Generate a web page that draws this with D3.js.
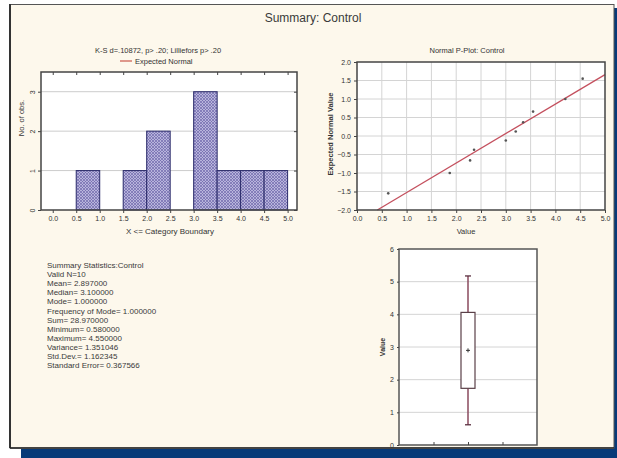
<!DOCTYPE html>
<html><head><meta charset="utf-8">
<script src="https://cdn.jsdelivr.net/npm/d3@7"></script>
<style>
html,body{margin:0;padding:0;background:#fff;}
svg{display:block;font-family:"Liberation Sans",Arial,sans-serif;}
.tick text{font-size:7px;fill:#333;}
.tick line{stroke:#444;}
.domain{display:none;}
</style></head>
<body>
<svg id="c" width="617" height="458"></svg>
<script>
// ---------- DATA ----------
const mainTitle = "Summary: Control";
const histTitle = "K-S d=.10872, p> .20; Lilliefors p> .20";
const histLegend = "Expected Normal";
const histBinStarts = [0.0, 0.5, 1.0, 1.5, 2.0, 2.5, 3.0, 3.5, 4.0, 4.5];
const histCounts    = [0,   1,   0,   1,   2,   0,   3,   1,   1,   1];
const histXTicks = [0.0, 0.5, 1.0, 1.5, 2.0, 2.5, 3.0, 3.5, 4.0, 4.5, 5.0];
const histYTicks = [0, 1, 2, 3];
const histXLabel = "X <= Category Boundary";
const histYLabel = "No. of obs.";

const ppTitle = "Normal P-Plot: Control";
const ppValues   = [0.63, 1.87, 2.28, 2.36, 3.00, 3.20, 3.35, 3.55, 4.20, 4.55];
const ppExpected = [-1.55, -1.00, -0.66, -0.37, -0.12, 0.12, 0.37, 0.66, 1.00, 1.55];
const ppLineX = [0.41, 5.0];
const ppLineY = [-2.0, 1.66];
const ppXTicks = [0.0, 0.5, 1.0, 1.5, 2.0, 2.5, 3.0, 3.5, 4.0, 4.5, 5.0];
const ppYTicks = [-2.0, -1.5, -1.0, -0.5, 0.0, 0.5, 1.0, 1.5, 2.0];
const ppXLabel = "Value";
const ppYLabel = "Expected Normal Value";

const statsLines = [
  "Summary Statistics:Control",
  "Valid N=10",
  "Mean= 2.897000",
  "Median= 3.100000",
  "Mode= 1.000000",
  "Frequency of Mode= 1.000000",
  "Sum= 28.970000",
  "Minimum= 0.580000",
  "Maximum= 4.550000",
  "Variance= 1.351046",
  "Std.Dev.= 1.162345",
  "Standard Error= 0.367566"
];

const boxMean = 2.897;
const boxLow = 1.735, boxHigh = 4.059;      // mean ± SD
const whiskLow = 0.619, whiskHigh = 5.175;  // mean ± 1.96 SD
const boxYTicks = [0, 1, 2, 3, 4, 5, 6];
const boxYLabel = "Value";

// ---------- DRAW ----------
const svg = d3.select("#c");
const navy = "#073a78";

svg.append("rect").attr("x",614).attr("y",8).attr("width",3).attr("height",450).attr("fill",navy);
svg.append("rect").attr("x",21).attr("y",449).attr("width",596).attr("height",9).attr("fill",navy);
svg.append("rect").attr("x",10).attr("y",4.5).attr("width",604).attr("height",443.5)
  .attr("fill","#fdf8ec").attr("stroke","#555").attr("stroke-width",1);
svg.append("line").attr("x1",10).attr("x2",10).attr("y1",4).attr("y2",448).attr("stroke","#333").attr("stroke-width",2);
svg.append("line").attr("x1",10).attr("x2",614).attr("y1",448).attr("y2",448).attr("stroke","#222").attr("stroke-width",1.5);

svg.append("text").attr("x",313).attr("y",22).attr("text-anchor","middle")
  .attr("font-size",12).attr("fill","#3a3a3a").text(mainTitle);

const defs = svg.append("defs");
const pat = defs.append("pattern").attr("id","hatch").attr("patternUnits","userSpaceOnUse")
  .attr("width",3).attr("height",3);
pat.append("rect").attr("width",3).attr("height",3).attr("fill","#b8b4dc");
pat.append("path").attr("d","M0,0 L3,3 M3,0 L0,3").attr("stroke","#6e68ac").attr("stroke-width",0.7);

// ---------- Histogram ----------
const hx = d3.scaleLinear().domain([-0.25, 5.2]).range([41, 297]);
const hy = d3.scaleLinear().domain([0, 3.5]).range([210, 72]);
const H = svg.append("g");
H.append("rect").attr("x",41).attr("y",72).attr("width",256).attr("height",138).attr("fill","#fff");
H.selectAll("line.grid").data(histYTicks.filter(d=>d>0)).join("line")
  .attr("x1",41).attr("x2",297).attr("y1",d=>hy(d)).attr("y2",d=>hy(d))
  .attr("stroke","#ccc").attr("stroke-width",1);
H.selectAll("rect.bar").data(histBinStarts.map((s,i)=>({s,c:histCounts[i]})).filter(d=>d.c>0)).join("rect")
  .attr("x",d=>hx(d.s)).attr("width",d=>hx(d.s+0.5)-hx(d.s))
  .attr("y",d=>hy(d.c)).attr("height",d=>hy(0)-hy(d.c))
  .attr("fill","url(#hatch)").attr("stroke","#2a2a6a").attr("stroke-width",1);
H.append("rect").attr("x",41).attr("y",72).attr("width",256).attr("height",138)
  .attr("fill","none").attr("stroke","#444").attr("stroke-width",1.5);
H.append("g").attr("transform","translate(0,210)")
  .call(d3.axisBottom(hx).tickValues(histXTicks).tickFormat(d3.format(".1f")).tickSize(3));
H.append("g").attr("transform","translate(0,72)")
  .call(d3.axisTop(hx).tickValues(histXTicks).tickFormat("").tickSize(-3));
const hyAx = H.append("g").attr("transform","translate(41,0)")
  .call(d3.axisLeft(hy).tickValues(histYTicks).tickFormat(d3.format("d")).tickSize(3));
hyAx.selectAll(".tick text").attr("transform","rotate(-90)").attr("x",0)
  .attr("y",-6).attr("dy","0").attr("text-anchor","middle");
H.append("g").attr("transform","translate(297,0)")
  .call(d3.axisRight(hy).tickValues(histYTicks).tickFormat("").tickSize(-3));
H.append("text").attr("x",158).attr("y",53).attr("text-anchor","middle").attr("font-size",7.5).attr("fill","#333").text(histTitle);
H.append("line").attr("x1",120).attr("x2",132).attr("y1",61).attr("y2",61).attr("stroke","#c0392b").attr("stroke-width",1);
H.append("text").attr("x",135).attr("y",63.5).attr("font-size",7.5).attr("fill","#333").text(histLegend);
H.append("text").attr("x",170).attr("y",234).attr("text-anchor","middle").attr("font-size",8).attr("fill","#333").text(histXLabel);
H.append("text").attr("transform","translate(24,118) rotate(-90)").attr("text-anchor","middle")
  .attr("font-size",7.5).attr("fill","#333").text(histYLabel);

// ---------- Normal P-Plot ----------
const px = d3.scaleLinear().domain([0, 5]).range([357, 605]);
const py = d3.scaleLinear().domain([-2, 2]).range([210, 62]);
const P = svg.append("g");
P.append("rect").attr("x",357).attr("y",62).attr("width",248).attr("height",148).attr("fill","#fff");
P.selectAll("line.vg").data(ppXTicks.slice(1,-1)).join("line")
  .attr("x1",d=>px(d)).attr("x2",d=>px(d)).attr("y1",62).attr("y2",210).attr("stroke","#d4d4d4");
P.selectAll("line.hg").data(ppYTicks.slice(1,-1)).join("line")
  .attr("y1",d=>py(d)).attr("y2",d=>py(d)).attr("x1",357).attr("x2",605).attr("stroke","#d4d4d4");
P.append("line").attr("x1",px(ppLineX[0])).attr("y1",py(ppLineY[0])).attr("x2",px(ppLineX[1])).attr("y2",py(ppLineY[1]))
  .attr("stroke","#c4505e").attr("stroke-width",1.3);
P.selectAll("circle").data(ppValues.map((v,i)=>[v,ppExpected[i]])).join("circle")
  .attr("cx",d=>px(d[0])).attr("cy",d=>py(d[1])).attr("r",1.3).attr("fill","#555");
P.append("rect").attr("x",357).attr("y",62).attr("width",248).attr("height",148)
  .attr("fill","none").attr("stroke","#444").attr("stroke-width",1.5);
P.append("g").attr("transform","translate(0,210)")
  .call(d3.axisBottom(px).tickValues(ppXTicks).tickFormat(d3.format(".1f")).tickSize(3));
P.append("g").attr("transform","translate(357,0)")
  .call(d3.axisLeft(py).tickValues(ppYTicks).tickFormat(d3.format(".1f")).tickSize(3));
P.append("text").attr("x",467).attr("y",53).attr("text-anchor","middle").attr("font-size",7.5).attr("fill","#333").text(ppTitle);
P.append("text").attr("x",466).attr("y",234).attr("text-anchor","middle").attr("font-size",7.5).attr("fill","#333").text(ppXLabel);
P.append("text").attr("transform","translate(333,134) rotate(-90)").attr("text-anchor","middle")
  .attr("font-size",7.5).attr("font-weight","bold").attr("fill","#333").text(ppYLabel);

// ---------- Stats text ----------
svg.append("g").selectAll("text").data(statsLines).join("text")
  .attr("x",47).attr("y",(d,i)=>268+i*9.1).attr("font-size",8).attr("fill","#3a3a3a").text(d=>d);

// ---------- Box plot ----------
const by = d3.scaleLinear().domain([0, 6]).range([445, 249]);
const bx = 468;
const B = svg.append("g");
B.append("rect").attr("x",399).attr("y",249).attr("width",138).attr("height",196).attr("fill","#fff");
B.selectAll("line.g").data(boxYTicks.slice(1,-1)).join("line")
  .attr("x1",399).attr("x2",537).attr("y1",d=>by(d)).attr("y2",d=>by(d)).attr("stroke","#d4d4d4");
B.append("line").attr("x1",bx).attr("x2",bx).attr("y1",by(whiskHigh)).attr("y2",by(boxHigh)).attr("stroke","#8a4a5e").attr("stroke-width",1.5);
B.append("line").attr("x1",bx).attr("x2",bx).attr("y1",by(boxLow)).attr("y2",by(whiskLow)).attr("stroke","#8a4a5e").attr("stroke-width",1.5);
B.selectAll("line.cap").data([whiskLow, whiskHigh]).join("line")
  .attr("x1",bx-3).attr("x2",bx+3).attr("y1",d=>by(d)).attr("y2",d=>by(d)).attr("stroke","#5a3040").attr("stroke-width",1.3);
B.append("rect").attr("x",bx-7).attr("width",14).attr("y",by(boxHigh)).attr("height",by(boxLow)-by(boxHigh))
  .attr("fill","#fff").attr("stroke","#5a4048").attr("stroke-width",1.2);
B.append("path").attr("d",`M${bx-2},${by(boxMean)}H${bx+2}M${bx},${by(boxMean)-2}V${by(boxMean)+2}`)
  .attr("stroke","#333").attr("stroke-width",1);
B.append("rect").attr("x",399).attr("y",249).attr("width",138).attr("height",196)
  .attr("fill","none").attr("stroke","#555").attr("stroke-width",1.5);
B.append("g").attr("transform","translate(399,0)")
  .call(d3.axisLeft(by).tickValues(boxYTicks).tickFormat(d3.format("d")).tickSize(2))
  .selectAll("text").attr("font-size",6);
B.append("g").attr("transform","translate(0,445)")
  .call(d3.axisTop(d3.scaleLinear().domain([0,4]).range([399,537])).tickValues([1,2,3]).tickFormat("").tickSize(3));
B.append("text").attr("transform","translate(385,347) rotate(-90)").attr("text-anchor","middle")
  .attr("font-size",7).attr("font-weight","bold").attr("fill","#333").text(boxYLabel);
</script>
</body></html>
